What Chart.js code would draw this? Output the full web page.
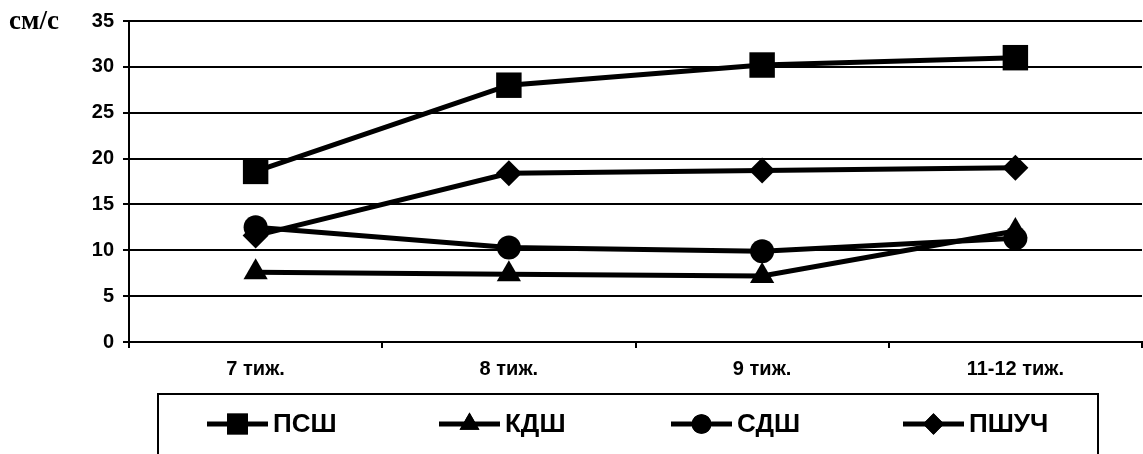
<!DOCTYPE html>
<html>
<head>
<meta charset="utf-8">
<script src="https://cdn.jsdelivr.net/npm/chart.js@4/dist/chart.umd.min.js"></script>
<style>
  html, body { margin: 0; padding: 0; background: #fff; overflow: hidden; }
  #wrap { position: relative; width: 1160px; height: 454px; }
  canvas { display: block; }
</style>
</head>
<body>
<div id="wrap"><canvas id="chart" width="1160" height="454"></canvas></div>
<script>
// Blood flow velocity by gestational week
const weeks = ['7 тиж.', '8 тиж.', '9 тиж.', '11-12 тиж.'];
const seriesNames = ['ПСШ', 'КДШ', 'СДШ', 'ПШУЧ'];
const pshValues = [18.6, 28.0, 30.2, 31.0];
const kdshValues = [7.6, 7.4, 7.2, 12.1];
const sdshValues = [12.5, 10.3, 9.9, 11.3];
const pshuchValues = [11.6, 18.4, 18.7, 19.0];
const yMin = 0, yMax = 35, yStep = 5;
const unitLabel = 'см/с';

const SANS = '"Liberation Sans", Arial, sans-serif';
const SERIF = '"Liberation Serif", "Times New Roman", serif';

function series(label, data, pointStyle, radius) {
  return {
    label, data, pointStyle,
    pointRadius: radius,
    pointHoverRadius: radius,
    borderColor: '#000',
    backgroundColor: '#000',
    pointBackgroundColor: '#000',
    pointBorderColor: '#000',
    pointBorderWidth: 0,
    borderWidth: 5,
    tension: 0,
    fill: false
  };
}

// Unit label at the top of the value axis, plus the boxed legend under the chart
const decorations = {
  id: 'decorations',
  afterDraw(chart) {
    const ctx = chart.ctx;
    const yScale = chart.scales.y;
    ctx.save();
    ctx.fillStyle = '#000';
    ctx.font = 'bold 27px ' + SERIF;
    ctx.textAlign = 'left';
    ctx.textBaseline = 'middle';
    ctx.fillText(unitLabel, 9, yScale.getPixelForValue(yMax) + 1);

    // legend frame
    ctx.strokeStyle = '#000';
    ctx.lineWidth = 2;
    ctx.strokeRect(158, 394, 940, 90);

    const yc = 424;
    chart.data.datasets.forEach((ds, i) => {
      const x0 = 207 + i * 232;
      ctx.beginPath();
      ctx.lineWidth = 5;
      ctx.strokeStyle = '#000';
      ctx.moveTo(x0, yc);
      ctx.lineTo(x0 + 61, yc);
      ctx.stroke();
      ctx.fillStyle = '#000';
      Chart.helpers.drawPoint(ctx, {
        pointStyle: ds.pointStyle,
        radius: ds.pointRadius * 0.82,
        rotation: 0,
        borderWidth: 0
      }, x0 + 30.5, yc);
      ctx.fill();
      ctx.font = 'bold 26px ' + SANS;
      ctx.textAlign = 'left';
      ctx.textBaseline = 'middle';
      ctx.fillText(ds.label, x0 + 66, yc + 1);
    });
    ctx.restore();
  }
};

new Chart(document.getElementById('chart'), {
  type: 'line',
  data: {
    labels: weeks,
    datasets: [
      series(seriesNames[0], pshValues, 'rect', 18),
      series(seriesNames[1], kdshValues, 'triangle', 14),
      series(seriesNames[2], sdshValues, 'circle', 12),
      series(seriesNames[3], pshuchValues, 'rectRot', 13)
    ]
  },
  options: {
    responsive: false,
    animation: false,
    devicePixelRatio: 1,
    layout: { padding: { left: 0, right: 9, top: 20, bottom: 62 } },
    plugins: {
      legend: { display: false },
      tooltip: { enabled: false }
    },
    scales: {
      x: {
        type: 'category',
        offset: true,
        grid: {
          offset: true,
          drawOnChartArea: false,
          drawTicks: true,
          tickLength: 6,
          color: '#000',
          lineWidth: 2
        },
        border: { color: '#000', width: 2 },
        ticks: {
          color: '#000',
          font: { family: SANS, size: 20, weight: 'bold' },
          padding: 9,
          maxRotation: 0,
          autoSkip: false
        },
        afterFit(scale) { scale.height = 50; }
      },
      y: {
        min: yMin,
        max: yMax,
        grid: { color: '#000', lineWidth: 2, tickLength: 6 },
        border: { color: '#000', width: 2 },
        ticks: {
          stepSize: yStep,
          color: '#000',
          font: { family: SANS, size: 20, weight: 'bold' },
          padding: 9
        },
        afterFit(scale) { scale.width = 129; }
      }
    }
  },
  plugins: [decorations]
});
</script>
</body>
</html>
